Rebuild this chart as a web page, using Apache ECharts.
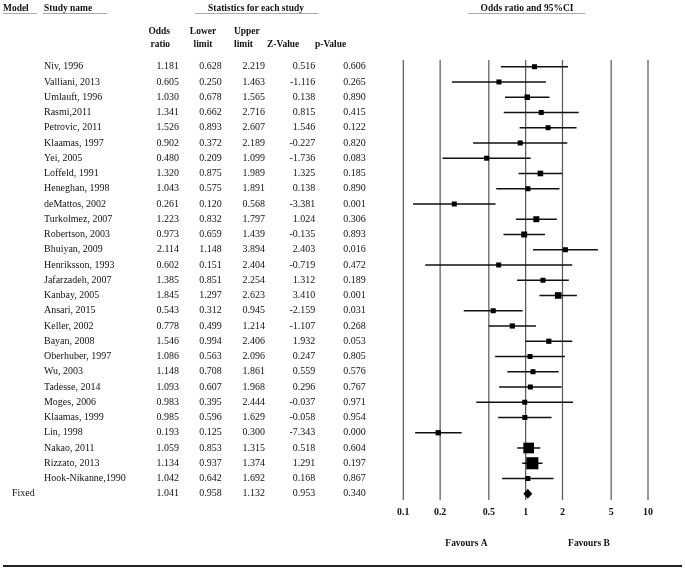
<!DOCTYPE html>
<html>
<head>
<meta charset="utf-8">
<script src="https://cdn.jsdelivr.net/npm/echarts@6/dist/echarts.min.js"></script>
<style>html,body{margin:0;padding:0;background:#fff;}#chart{width:685px;height:570px;}</style>
</head>
<body>
<div id="chart"></div>
<script>
const studies = ["Niv, 1996","Valliani, 2013","Umlauft, 1996","Rasmi,2011","Petrovic, 2011","Klaamas, 1997","Yei, 2005","Loffeld, 1991","Heneghan, 1998","deMattos, 2002","Turkolmez, 2007","Robertson, 2003","Bhuiyan, 2009","Henriksson, 1993","Jafarzadeh, 2007","Kanbay, 2005","Ansari, 2015","Keller, 2002","Bayan, 2008","Oberhuber, 1997","Wu, 2003","Tadesse, 2014","Moges, 2006","Klaamas, 1999","Lin, 1998","Nakao, 2011","Rizzato, 2013","Hook-Nikanne,1990"];
const oddsRatio = [1.181,0.605,1.030,1.341,1.526,0.902,0.480,1.320,1.043,0.261,1.223,0.973,2.114,0.602,1.385,1.845,0.543,0.778,1.546,1.086,1.148,1.093,0.983,0.985,0.193,1.059,1.134,1.042];
const lowerLimit = [0.628,0.250,0.678,0.662,0.893,0.372,0.209,0.875,0.575,0.120,0.832,0.659,1.148,0.151,0.851,1.297,0.312,0.499,0.994,0.563,0.708,0.607,0.395,0.596,0.125,0.853,0.937,0.642];
const upperLimit = [2.219,1.463,1.565,2.716,2.607,2.189,1.099,1.989,1.891,0.568,1.797,1.439,3.894,2.404,2.254,2.623,0.945,1.214,2.406,2.096,1.861,1.968,2.444,1.629,0.300,1.315,1.374,1.692];
const zValue = [0.516,-1.116,0.138,0.815,1.546,-0.227,-1.736,1.325,0.138,-3.381,1.024,-0.135,2.403,-0.719,1.312,3.410,-2.159,-1.107,1.932,0.247,0.559,0.296,-0.037,-0.058,-7.343,0.518,1.291,0.168];
const pValue = [0.606,0.265,0.890,0.415,0.122,0.820,0.083,0.185,0.890,0.001,0.306,0.893,0.016,0.472,0.189,0.001,0.031,0.268,0.053,0.805,0.576,0.767,0.971,0.954,0.000,0.604,0.197,0.867];
const fixedLabel = "Fixed";
const fixedOR = 1.041, fixedLower = 0.958, fixedUpper = 1.132, fixedZ = 0.953, fixedP = 0.340;
const tickValues = [0.1,0.2,0.5,1,2,5,10];
const tickLabels = ["0.1","0.2","0.5","1","2","5","10"];

const SERIF = '"Liberation Serif", "Times New Roman", serif';
const Y_MIN = -0.44, Y_MAX = 28.41;

function txt(x, y, s, opt) {
  opt = opt || {};
  return {
    type: 'text', x: x, y: y, scaleX: opt.scaleX || 1, silent: true,
    style: {
      text: s, fontFamily: SERIF, fontSize: opt.size || 10.5,
      fontWeight: opt.bold ? 'bold' : 'normal', fill: '#111',
      align: opt.align || 'left', verticalAlign: 'middle'
    }
  };
}
function hline(x1, x2, y, color, w) {
  return { type: 'line', silent: true, shape: { x1: x1, y1: y, x2: x2, y2: y }, style: { stroke: color, lineWidth: w } };
}

// rows: all studies + fixed
const rowIndex = studies.map((s, i) => i).concat([studies.length]);

const chart = echarts.init(document.getElementById('chart'), null, { renderer: 'canvas' });

const H = { bold: true, size: 11, scaleX: 0.86 };
const graphics = [
  txt(3, 8, 'Model', H),
  txt(44, 8, 'Study name', H),
  Object.assign(txt(256, 8, 'Statistics for each study', Object.assign({ align: 'center' }, H))),
  txt(527, 8, 'Odds ratio and 95%CI', Object.assign({ align: 'center' }, H)),
  hline(3, 37, 13.5, '#aaa', 1),
  hline(43, 107, 13.5, '#aaa', 1),
  hline(195, 318, 13.5, '#aaa', 1),
  hline(468, 585, 13.5, '#aaa', 1),
  txt(170, 31, 'Odds', Object.assign({ align: 'right' }, H)),
  txt(170, 44, 'ratio', Object.assign({ align: 'right' }, H)),
  txt(203, 31, 'Lower', Object.assign({ align: 'center' }, H)),
  txt(203, 44, 'limit', Object.assign({ align: 'center' }, H)),
  txt(234, 31, 'Upper', H),
  txt(234, 44, 'limit', H),
  txt(267, 44, 'Z-Value', H),
  txt(315, 44, 'p-Value', H),
  txt(466.5, 543, 'Favours A', Object.assign({ align: 'center' }, H)),
  txt(589, 543, 'Favours B', Object.assign({ align: 'center' }, H)),
  hline(3, 682, 566, '#222', 2)
];

function boxSize(lo, hi) {
  const se = (Math.log(hi) - Math.log(lo)) / 3.92;
  const w = 1 / (se * se);
  return Math.max(5, 1.18 * Math.sqrt(w));
}

const option = {
  animation: false,
  backgroundColor: '#fff',
  grid: { left: 403.3, right: 37, top: 60, height: 440, containLabel: false },
  xAxis: { type: 'log', logBase: 10, min: 0.1, max: 10, show: false },
  yAxis: { type: 'value', inverse: true, min: Y_MIN, max: Y_MAX, show: false },
  graphic: graphics,
  series: [
    {
      // vertical reference lines and tick labels
      type: 'custom', clip: false, z: 1,
      data: tickValues.map(v => [v, Y_MIN]),
      renderItem: function (params, api) {
        const v = tickValues[params.dataIndex];
        const top = api.coord([v, Y_MIN]);
        const bot = api.coord([v, Y_MAX]);
        return {
          type: 'group', children: [
            { type: 'line', shape: { x1: top[0], y1: top[1], x2: bot[0], y2: bot[1] }, style: { stroke: '#555', lineWidth: 1.2 } },
            txt(bot[0], bot[1] + 12, tickLabels[params.dataIndex], { bold: true, size: 11, scaleX: 0.9, align: 'center' })
          ]
        };
      }
    },
    {
      // table text
      type: 'custom', clip: false, z: 2,
      data: rowIndex.map(i => [1, i]),
      renderItem: function (params, api) {
        const i = params.dataIndex;
        const y = api.coord([1, i])[1];
        const isFixed = i === studies.length;
        const o = isFixed ? fixedOR : oddsRatio[i];
        const lo = isFixed ? fixedLower : lowerLimit[i];
        const hi = isFixed ? fixedUpper : upperLimit[i];
        const z = isFixed ? fixedZ : zValue[i];
        const p = isFixed ? fixedP : pValue[i];
        const R = { align: 'right', size: 10.5, scaleX: 0.95 };
        const ch = [
          txt(179, y, o.toFixed(3), R),
          txt(221.7, y, lo.toFixed(3), R),
          txt(265, y, hi.toFixed(3), R),
          txt(315.3, y, z.toFixed(3), R),
          txt(365.7, y, p.toFixed(3), R)
        ];
        if (isFixed) ch.push(txt(12, y, fixedLabel, { size: 10.5, scaleX: 0.95 }));
        else ch.push(txt(44, y, studies[i], { size: 10.5, scaleX: 0.95 }));
        return { type: 'group', children: ch };
      }
    },
    {
      // forest plot marks
      type: 'custom', clip: false, z: 3,
      data: rowIndex.map(i => [1, i]),
      renderItem: function (params, api) {
        const i = params.dataIndex;
        const isFixed = i === studies.length;
        const o = isFixed ? fixedOR : oddsRatio[i];
        const lo = isFixed ? fixedLower : lowerLimit[i];
        const hi = isFixed ? fixedUpper : upperLimit[i];
        const c = api.coord([o, i]);
        const a = api.coord([lo, i]);
        const b = api.coord([hi, i]);
        if (isFixed) {
          return {
            type: 'polygon',
            shape: { points: [[a[0], c[1]], [c[0], c[1] - 5], [b[0], c[1]], [c[0], c[1] + 5]] },
            style: { fill: '#000' }
          };
        }
        const s = boxSize(lo, hi);
        return {
          type: 'group', children: [
            { type: 'line', shape: { x1: a[0], y1: c[1], x2: b[0], y2: c[1] }, style: { stroke: '#111', lineWidth: 1.5 } },
            { type: 'rect', shape: { x: c[0] - s / 2, y: c[1] - s / 2, width: s, height: s }, style: { fill: '#000' } }
          ]
        };
      }
    }
  ]
};
chart.setOption(option);
</script>
</body>
</html>
